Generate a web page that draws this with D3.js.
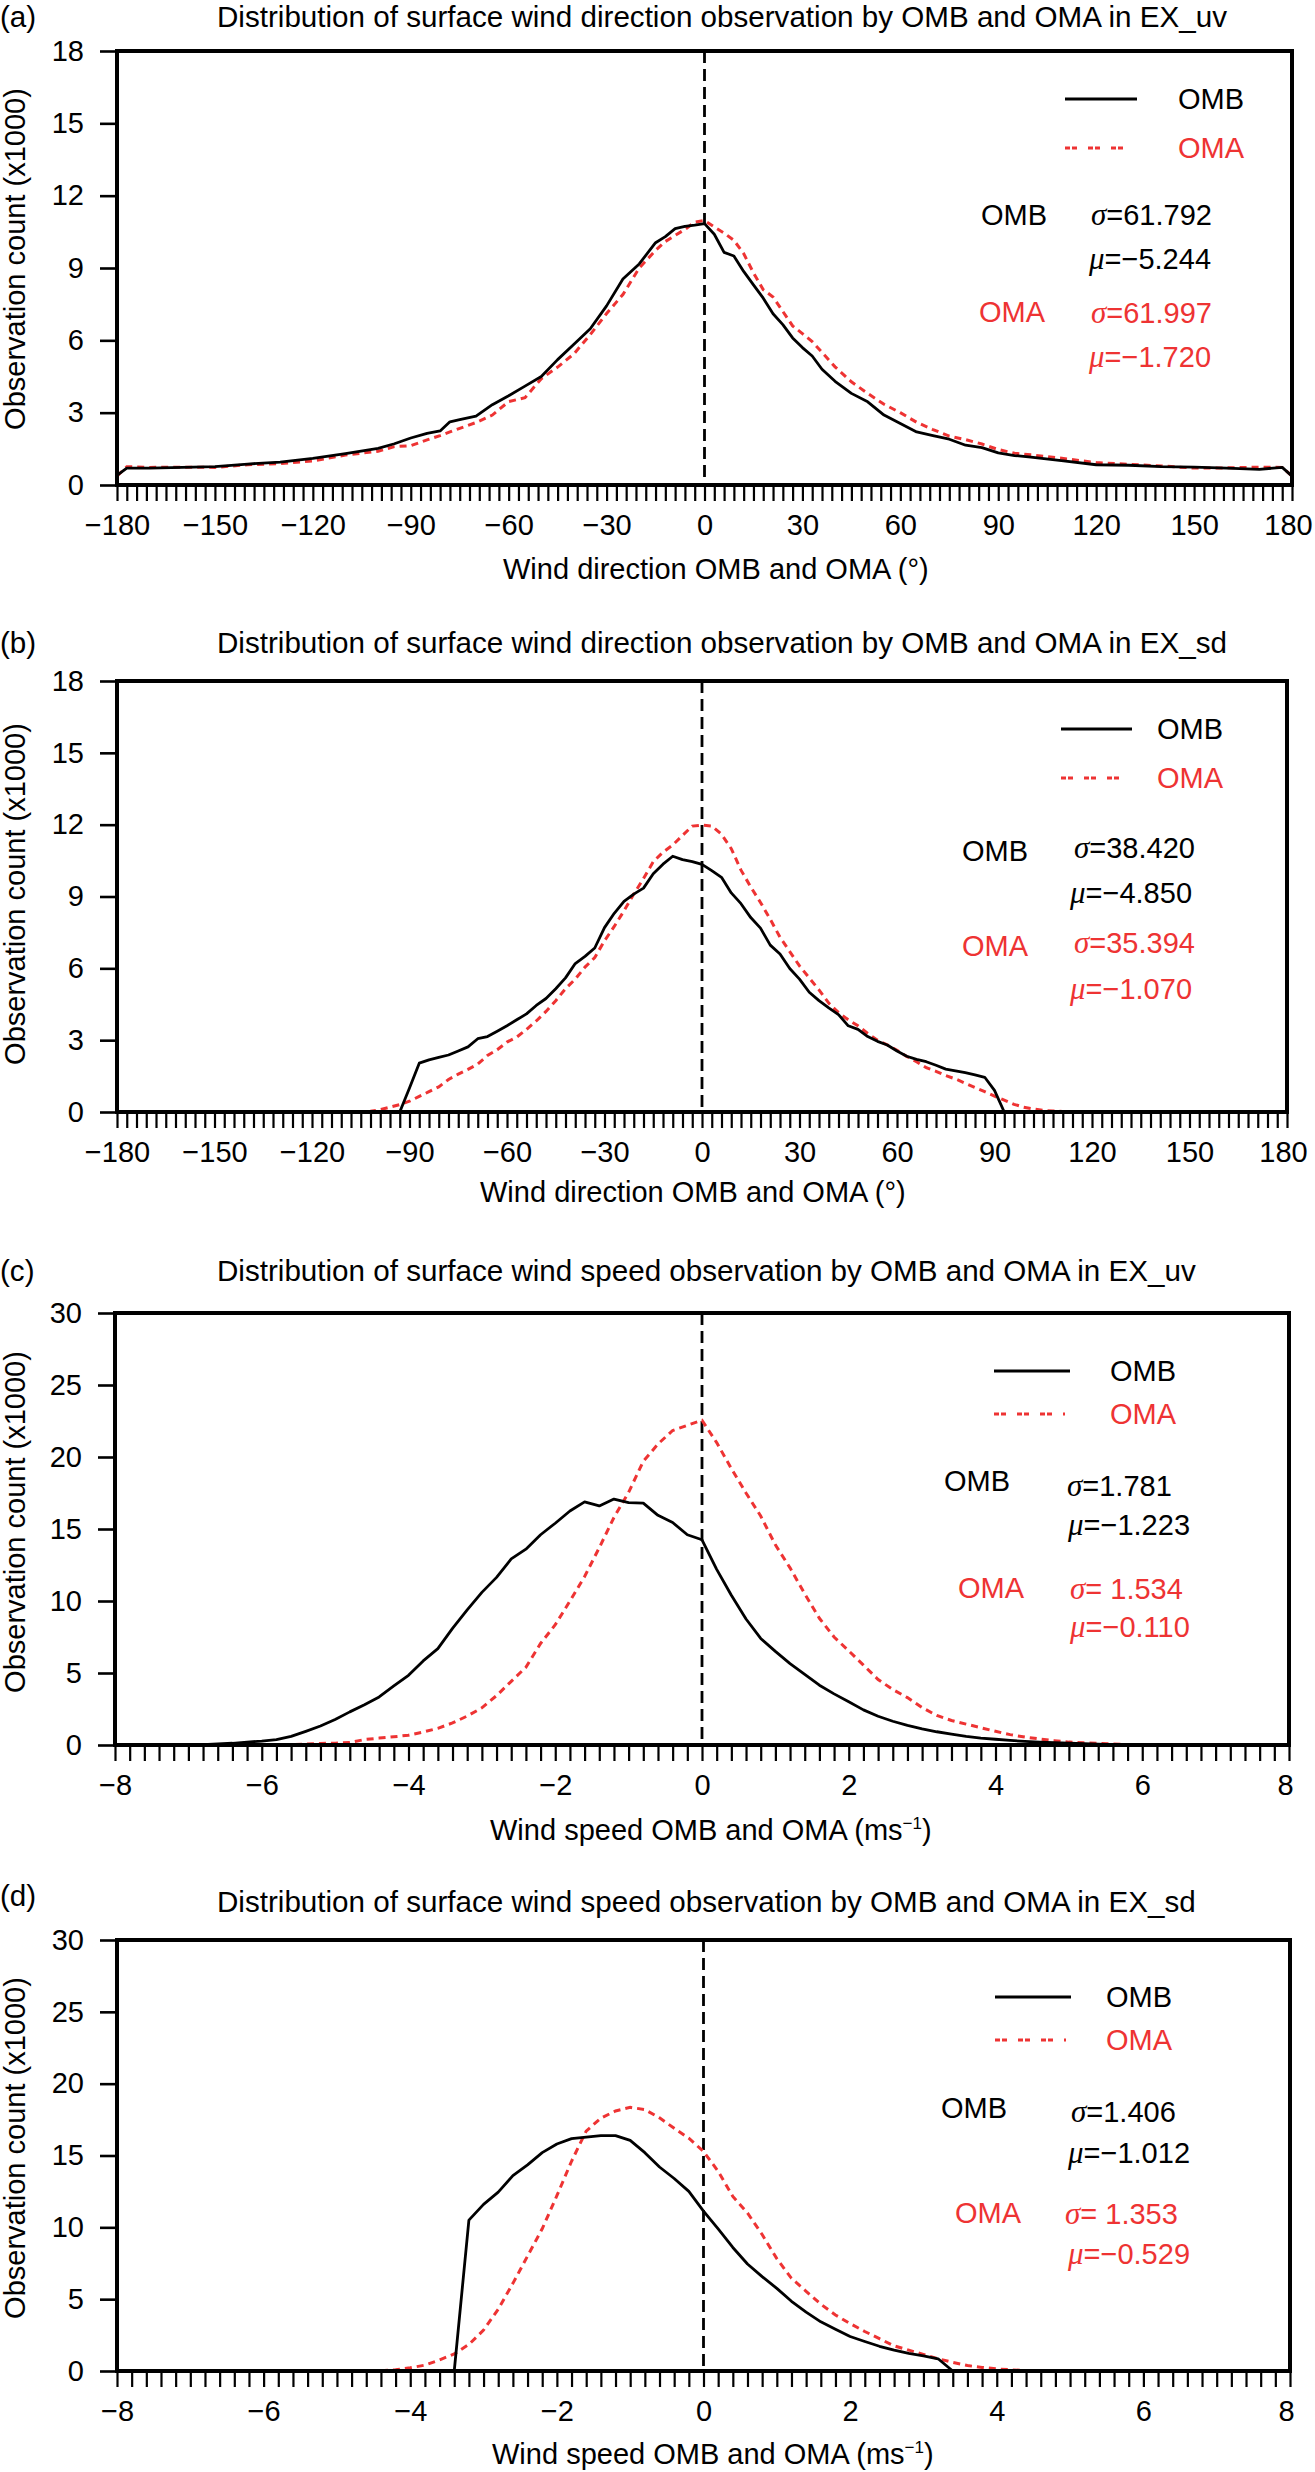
<!DOCTYPE html>
<html>
<head>
<meta charset="utf-8">
<script src="https://cdn.jsdelivr.net/npm/d3@7"></script>
<style>
body { margin: 0; background: #fff; }
svg { display: block; font-family: "Liberation Sans", Arial, Helvetica, sans-serif; }
</style>
</head>
<body>
<div id="chart"></div>
<script>
/* Access data */
var panelTags = ["(a)", "(b)", "(c)", "(d)"];
var titles = [
  "Distribution of surface wind direction observation by OMB and OMA in EX_uv",
  "Distribution of surface wind direction observation by OMB and OMA in EX_sd",
  "Distribution of surface wind speed observation by OMB and OMA in EX_uv",
  "Distribution of surface wind speed observation by OMB and OMA in EX_sd"
];
var seriesNames = ["OMB", "OMA"];
var yTitle = "Observation count (x1000)";
var dirXTitle = "Wind direction OMB and OMA (\u00b0)";
var spdXTitle = "Wind speed OMB and OMA (ms";

var dirTickLabels = [-180, -150, -120, -90, -60, -30, 0, 30, 60, 90, 120, 150, 180];
var dirYTicks = [0, 3, 6, 9, 12, 15, 18];
var spdTickLabels = [-8, -6, -4, -2, 0, 2, 4, 6, 8];
var spdYTicks = [0, 5, 10, 15, 20, 25, 30];

var sigmaText = [["61.792", "61.997"], ["38.420", "35.394"], ["1.781", " 1.534"], ["1.406", " 1.353"]];
var muText = [["\u22125.244", "\u22121.720"], ["\u22124.850", "\u22121.070"], ["\u22121.223", "\u22120.110"], ["\u22121.012", "\u22120.529"]];

// (a) wind direction, EX_uv
var dirA = [-180, -177, -170, -160, -150, -140, -130, -120, -110, -100,
  -95, -90, -85, -81, -78, -75, -70, -65, -60, -55,
  -50, -45, -40, -35, -30, -25, -20, -15, -12, -9,
  -6, -3, 0, 3, 6, 9, 12, 15, 18, 21,
  24, 27, 30, 33, 36, 40, 45, 50, 55, 60,
  65, 70, 75, 80, 85, 90, 95, 100, 110, 120,
  130, 140, 150, 160, 170, 177, 180];
var ombA = [0.4, 0.7, 0.7, 0.73, 0.76, 0.87, 0.95, 1.1, 1.3, 1.52,
  1.71, 1.95, 2.14, 2.24, 2.62, 2.71, 2.86, 3.33, 3.7, 4.1,
  4.5, 5.2, 5.84, 6.48, 7.43, 8.54, 9.17, 10.05, 10.3, 10.63,
  10.73, 10.78, 10.84, 10.4, 9.65, 9.5, 8.86, 8.3, 7.75, 7.1,
  6.65, 6.1, 5.7, 5.35, 4.8, 4.3, 3.8, 3.45, 2.9, 2.55,
  2.2, 2.05, 1.9, 1.65, 1.55, 1.33, 1.22, 1.16, 1.0, 0.84,
  0.82, 0.76, 0.74, 0.7, 0.65, 0.73, 0.37];
var omaA = [0.37, 0.76, 0.73, 0.74, 0.73, 0.84, 0.89, 1.0, 1.24, 1.4,
  1.59, 1.63, 1.87, 2.05, 2.2, 2.35, 2.59, 2.9, 3.46, 3.62,
  4.41, 4.89, 5.44, 6.24, 7.11, 7.9, 9.0, 9.73, 10.1, 10.35,
  10.6, 10.9, 10.97, 10.7, 10.45, 10.15, 9.6, 8.8, 8.1, 7.8,
  7.2, 6.6, 6.28, 5.95, 5.5, 4.9, 4.28, 3.8, 3.35, 3.0,
  2.6, 2.3, 2.03, 1.88, 1.7, 1.47, 1.32, 1.25, 1.1, 0.93,
  0.86, 0.79, 0.7, 0.71, 0.74, 0.73, 0.37];

// (b) wind direction, EX_sd
var dirB = [-180, -105, -102, -99, -96, -93, -90, -87, -84, -81,
  -78, -75, -72, -69, -66, -63, -60, -57, -54, -51,
  -48, -45, -42, -39, -36, -33, -30, -27, -24, -21,
  -18, -15, -12, -9, -6, -3, 0, 3, 6, 9,
  12, 15, 18, 21, 24, 27, 30, 33, 36, 39,
  42, 45, 48, 51, 54, 57, 60, 63, 66, 69,
  72, 75, 78, 81, 84, 87, 90, 93, 96, 99,
  102, 105, 108, 111, 114, 180];
var ombB = [0, 0, 0, 0, 0, 0, 1.0, 2.04, 2.18, 2.28,
  2.38, 2.55, 2.72, 3.06, 3.15, 3.37, 3.6, 3.85, 4.1, 4.45,
  4.74, 5.15, 5.6, 6.2, 6.5, 6.85, 7.7, 8.3, 8.8, 9.1,
  9.35, 9.95, 10.35, 10.68, 10.54, 10.46, 10.34, 10.08, 9.8, 9.15,
  8.7, 8.12, 7.68, 6.97, 6.6, 5.99, 5.55, 5.0, 4.65, 4.35,
  4.07, 3.6, 3.45, 3.15, 2.95, 2.8, 2.55, 2.33, 2.2, 2.1,
  1.95, 1.79, 1.72, 1.64, 1.55, 1.45, 0.9, 0, 0, 0,
  0, 0, 0, 0, 0, 0];
var omaB = [0, 0, 0.03, 0.1, 0.2, 0.31, 0.45, 0.65, 0.85, 1.05,
  1.36, 1.58, 1.78, 2.0, 2.36, 2.6, 2.92, 3.13, 3.45, 3.8,
  4.2, 4.65, 5.15, 5.55, 6.05, 6.45, 7.15, 7.75, 8.4, 9.1,
  9.75, 10.45, 10.85, 11.15, 11.55, 11.94, 11.98, 11.94, 11.6, 11.0,
  10.1, 9.4, 8.75, 8.05, 7.3, 6.7, 6.1, 5.6, 5.1, 4.55,
  4.15, 3.85, 3.6, 3.28, 3.0, 2.8, 2.58, 2.32, 2.1, 1.85,
  1.7, 1.52, 1.38, 1.2, 1.02, 0.85, 0.66, 0.5, 0.32, 0.2,
  0.13, 0.07, 0.04, 0.02, 0, 0];

// (c) wind speed, EX_uv
var spdC = [-8, -7.0, -6.8, -6.6, -6.4, -6.2, -6.0, -5.8, -5.6, -5.4,
  -5.2, -5.0, -4.8, -4.6, -4.4, -4.2, -4.0, -3.8, -3.6, -3.4,
  -3.2, -3.0, -2.8, -2.6, -2.4, -2.2, -2.0, -1.8, -1.6, -1.4,
  -1.2, -1.0, -0.8, -0.6, -0.4, -0.2, 0.0, 0.2, 0.4, 0.6,
  0.8, 1.0, 1.2, 1.4, 1.6, 1.8, 2.0, 2.2, 2.4, 2.6,
  2.8, 3.0, 3.2, 3.4, 3.6, 3.8, 4.0, 4.2, 4.4, 4.6,
  4.8, 5.0, 5.2, 5.4, 5.6, 5.8, 6.0, 8];
var ombC = [0, 0, 0.03, 0.07, 0.12, 0.2, 0.27, 0.37, 0.6, 0.95,
  1.32, 1.77, 2.3, 2.8, 3.34, 4.1, 4.84, 5.84, 6.69, 8.1,
  9.38, 10.6, 11.64, 12.92, 13.6, 14.6, 15.4, 16.25, 16.88, 16.6,
  17.08, 16.83, 16.8, 15.95, 15.45, 14.6, 14.25, 12.2, 10.4, 8.75,
  7.4, 6.5, 5.65, 4.9, 4.15, 3.55, 3.0, 2.44, 2.0, 1.65,
  1.36, 1.12, 0.92, 0.75, 0.6, 0.48, 0.4, 0.32, 0.25, 0.2,
  0.17, 0.13, 0.09, 0.06, 0.03, 0.02, 0, 0];
var omaC = [0, 0, 0, 0, 0, 0, 0, 0.01, 0.02, 0.06,
  0.11, 0.13, 0.17, 0.38, 0.48, 0.57, 0.68, 0.9, 1.16, 1.53,
  2.01, 2.58, 3.43, 4.42, 5.4, 7.05, 8.35, 10.0, 11.7, 13.7,
  15.8, 17.55, 19.7, 20.9, 21.84, 22.2, 22.55, 21.0, 19.2, 17.5,
  15.9, 13.9, 12.3, 10.5, 8.8, 7.5, 6.54, 5.55, 4.55, 3.85,
  3.29, 2.6, 2.05, 1.7, 1.45, 1.2, 0.95, 0.72, 0.55, 0.42,
  0.3, 0.2, 0.15, 0.11, 0.07, 0.03, 0, 0];

// (d) wind speed, EX_sd
var spdD = [-8, -4.4, -4.2, -4.0, -3.8, -3.6, -3.4, -3.2, -3.0, -2.8,
  -2.6, -2.4, -2.2, -2.0, -1.8, -1.6, -1.4, -1.2, -1.0, -0.8,
  -0.6, -0.4, -0.2, 0.0, 0.2, 0.4, 0.6, 0.8, 1.0, 1.2,
  1.4, 1.6, 1.8, 2.0, 2.2, 2.4, 2.6, 2.8, 3.0, 3.2,
  3.4, 3.6, 3.8, 4.0, 4.2, 4.4, 8];
var ombD = [0, 0, 0, 0, 0, 0, 0, 10.5, 11.6, 12.45,
  13.6, 14.35, 15.2, 15.8, 16.17, 16.28, 16.38, 16.38, 16.05, 15.2,
  14.2, 13.4, 12.5, 11.13, 9.89, 8.6, 7.45, 6.57, 5.75, 4.85,
  4.1, 3.42, 2.9, 2.4, 2.05, 1.72, 1.45, 1.23, 1.05, 0.85,
  0, 0, 0, 0, 0, 0, 0];
var omaD = [0, 0.02, 0.08, 0.22, 0.41, 0.77, 1.19, 1.85, 2.85, 4.3,
  6.1, 8.0, 9.9, 12.2, 14.6, 16.7, 17.6, 18.1, 18.35, 18.2,
  17.62, 16.9, 16.2, 15.28, 13.9, 12.15, 11.0, 9.5, 7.82, 6.45,
  5.55, 4.65, 3.9, 3.3, 2.75, 2.25, 1.75, 1.45, 1.15, 0.85,
  0.6, 0.38, 0.25, 0.15, 0.08, 0.02, 0];

/* Layout (pixel positions only) */
var layout = [
  { xs: dirA, omb: ombA, oma: omaA, kind: "dir", left: 117, right: 1292, top: 51, bottom: 485,
    titleY: 27, tagY: 27, xTitleX: 503, xTitleY: 579, yTitleY: 259,
    leg: { x1: 1065, x2: 1137, y1: 99, y2: 148, tx: 1178 },
    st: { n1: [981, 225], s1: [1091, 225], m1: [1089, 269], n2: [979, 322], s2: [1091, 323], m2: [1089, 367] } },
  { xs: dirB, omb: ombB, oma: omaB, kind: "dir", left: 117, right: 1287, top: 681, bottom: 1112,
    titleY: 653, tagY: 653, xTitleX: 480, xTitleY: 1202, yTitleY: 894,
    leg: { x1: 1061, x2: 1132, y1: 729, y2: 778, tx: 1157 },
    st: { n1: [962, 861], s1: [1074, 858], m1: [1070, 903], n2: [962, 956], s2: [1074, 953], m2: [1070, 999] } },
  { xs: spdC, omb: ombC, oma: omaC, kind: "spd", left: 115, right: 1289, top: 1313, bottom: 1745,
    titleY: 1281, tagY: 1281, xTitleX: 490, xTitleY: 1840, yTitleY: 1522,
    leg: { x1: 994, x2: 1070, y1: 1371, y2: 1414, tx: 1110 },
    st: { n1: [944, 1491], s1: [1067, 1496], m1: [1068, 1535], n2: [958, 1598], s2: [1070, 1599], m2: [1070, 1637] } },
  { xs: spdD, omb: ombD, oma: omaD, kind: "spd", left: 117, right: 1290, top: 1940, bottom: 2371,
    titleY: 1912, tagY: 1906, xTitleX: 492, xTitleY: 2464, yTitleY: 2148,
    leg: { x1: 995, x2: 1071, y1: 1997, y2: 2040, tx: 1106 },
    st: { n1: [941, 2118], s1: [1071, 2122], m1: [1068, 2163], n2: [955, 2223], s2: [1065, 2224], m2: [1068, 2264] } }
];

var red = "#ee3333";
var fs = 29;
var titleFs = 29.6;
var minus = function (v) { return v < 0 ? "\u2212" + Math.abs(v) : String(v); };

var svg = d3.select("#chart")
  .append("svg")
  .attr("width", 1315)
  .attr("height", 2472);

layout.forEach(function (p, i) {
  var isDir = p.kind === "dir";
  var xScale = d3.scaleLinear().domain(isDir ? [-180, 180] : [-8, 8]).range([p.left, p.right]);
  var yScale = d3.scaleLinear().domain(isDir ? [0, 18] : [0, 30]).range([p.bottom, p.top]);
  var labels = isDir ? dirTickLabels : spdTickLabels;
  var minorTicks = isDir ? d3.range(-180, 181, 3) : d3.range(-40, 41).map(function (k) { return k / 5; });
  var g = svg.append("g");

  // titles
  g.append("text").attr("x", 0).attr("y", p.tagY).attr("font-size", titleFs).text(panelTags[i]);
  g.append("text").attr("x", 217).attr("y", p.titleY).attr("font-size", titleFs).text(titles[i]);

  // axes
  var xAxis = g.append("g")
    .attr("transform", "translate(0," + p.bottom + ")")
    .call(d3.axisBottom(xScale).tickValues(minorTicks).tickSize(16).tickPadding(13)
      .tickFormat(function (v) {
        var hit = labels.filter(function (l) { return Math.abs(l - v) < 1e-6; });
        return hit.length ? minus(hit[0]) : "";
      }));
  xAxis.select(".domain").remove();
  xAxis.selectAll("line").attr("stroke-width", 2.2);
  xAxis.selectAll("text").attr("font-size", fs)
    .attr("dx", function (v) { return xScale(v) > 1280 ? -4 : 0; });
  xAxis.attr("font-family", null).attr("font-size", null);

  var yAxis = g.append("g")
    .attr("transform", "translate(" + p.left + ",0)")
    .call(d3.axisLeft(yScale).tickValues(isDir ? dirYTicks : spdYTicks).tickSize(17).tickPadding(16));
  yAxis.select(".domain").remove();
  yAxis.selectAll("line").attr("stroke-width", 2.6);
  yAxis.selectAll("text").attr("font-size", fs);
  yAxis.attr("font-family", null).attr("font-size", null);

  // axis titles
  g.append("text")
    .attr("transform", "translate(25," + p.yTitleY + ") rotate(-90)")
    .attr("text-anchor", "middle")
    .attr("font-size", fs)
    .text(yTitle);
  var xt = g.append("text").attr("x", p.xTitleX).attr("y", p.xTitleY).attr("font-size", fs);
  if (isDir) {
    xt.text(dirXTitle);
  } else {
    xt.append("tspan").text(spdXTitle);
    xt.append("tspan").attr("dy", -11).attr("font-size", 17).text("\u22121");
    xt.append("tspan").attr("dy", 11).text(")");
  }

  // zero line
  g.append("line")
    .attr("x1", xScale(0)).attr("x2", xScale(0))
    .attr("y1", p.top).attr("y2", p.bottom)
    .attr("stroke", "#000").attr("stroke-width", 2.8)
    .attr("stroke-dasharray", "12,6");

  // curves
  var lineGen = function (vals) {
    return d3.line()
      .x(function (d, k) { return xScale(p.xs[k]); })
      .y(function (d) { return yScale(d); })(vals);
  };
  g.append("path").attr("d", lineGen(p.oma))
    .attr("fill", "none").attr("stroke", red).attr("stroke-width", 3)
    .attr("stroke-dasharray", "7,5");
  g.append("path").attr("d", lineGen(p.omb))
    .attr("fill", "none").attr("stroke", "#000").attr("stroke-width", 2.8)
    .attr("stroke-linejoin", "round");

  // frame
  g.append("rect")
    .attr("x", p.left).attr("y", p.top)
    .attr("width", p.right - p.left).attr("height", p.bottom - p.top)
    .attr("fill", "none").attr("stroke", "#000").attr("stroke-width", 4);

  // legend
  g.append("line").attr("x1", p.leg.x1).attr("x2", p.leg.x2).attr("y1", p.leg.y1).attr("y2", p.leg.y1)
    .attr("stroke", "#000").attr("stroke-width", 3);
  g.append("line").attr("x1", p.leg.x1).attr("x2", p.leg.x2 - 5).attr("y1", p.leg.y2).attr("y2", p.leg.y2)
    .attr("stroke", red).attr("stroke-width", 3).attr("stroke-dasharray", "5,2,5,11");
  g.append("text").attr("x", p.leg.tx).attr("y", p.leg.y1 + 10).attr("font-size", fs).text(seriesNames[0]);
  g.append("text").attr("x", p.leg.tx).attr("y", p.leg.y2 + 10).attr("font-size", fs).attr("fill", red).text(seriesNames[1]);

  // statistics
  [0, 1].forEach(function (s) {
    var col = s === 0 ? "#000" : red;
    var n = s === 0 ? p.st.n1 : p.st.n2;
    var sg = s === 0 ? p.st.s1 : p.st.s2;
    var mu = s === 0 ? p.st.m1 : p.st.m2;
    g.append("text").attr("x", n[0]).attr("y", n[1]).attr("font-size", fs).attr("fill", col).text(seriesNames[s]);
    var t1 = g.append("text").attr("x", sg[0]).attr("y", sg[1]).attr("font-size", fs).attr("fill", col);
    t1.append("tspan").attr("font-family", "'Liberation Serif', 'Times New Roman', serif").attr("font-style", "italic").attr("font-size", 31).text("\u03c3");
    t1.append("tspan").text("=" + sigmaText[i][s]);
    var t2 = g.append("text").attr("x", mu[0]).attr("y", mu[1]).attr("font-size", fs).attr("fill", col);
    t2.append("tspan").attr("font-family", "'Liberation Serif', 'Times New Roman', serif").attr("font-style", "italic").attr("font-size", 31).text("\u03bc");
    t2.append("tspan").text("=" + muText[i][s]);
  });
});
</script>
</body>
</html>
